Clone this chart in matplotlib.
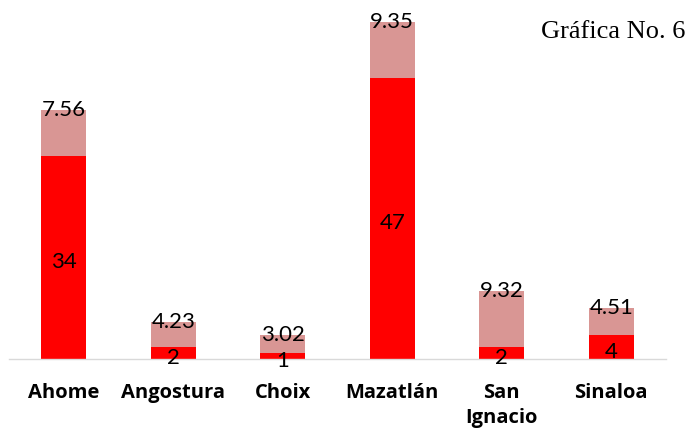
import matplotlib
matplotlib.use("Agg")
import matplotlib.pyplot as plt

categories = ["Ahome", "Angostura", "Choix", "Mazatlán", "San\nIgnacio", "Sinaloa"]
serie_inferior = [34, 2, 1, 47, 2, 4]
serie_superior = [7.56, 4.23, 3.02, 9.35, 9.32, 4.51]
etiquetas_inferior = ["34", "2", "1", "47", "2", "4"]
etiquetas_superior = ["7.56", "4.23", "3.02", "9.35", "9.32", "4.51"]

fig = plt.figure(figsize=(6.89, 4.32), dpi=100)
ax = fig.add_axes([9/689, 73/432, 657/689, 359/432])
x = list(range(len(categories)))
w = 0.41
ax.bar(x, serie_inferior, width=w, color="#FF0000", zorder=2)
ax.bar(x, serie_superior, width=w, bottom=serie_inferior, color="#D99694", zorder=2)

for xi, v, t in zip(x, serie_inferior, etiquetas_inferior):
    ax.text(xi, v / 2 - 0.8, t, ha="center", va="center", fontsize=16, family="Lato", color="black", zorder=3)
for xi, v0, v, t in zip(x, serie_inferior, serie_superior, etiquetas_superior):
    ax.text(xi, v0 + v, t, ha="center", va="center", fontsize=16, family="Lato", color="black", zorder=3)

ax.set_xlim(-0.5, len(categories) - 0.5)
ax.set_ylim(0, 60)
ax.set_xticks(x)
ax.set_xticklabels(categories, fontsize=14.5, fontweight="bold", family="Open Sans", linespacing=1.35)
ax.tick_params(axis="x", length=0, pad=17)
ax.set_yticks([])
for s in ["top", "left", "right"]:
    ax.spines[s].set_visible(False)
ax.spines["bottom"].set_color("#D9D9D9")
ax.spines["bottom"].set_linewidth(1)

fig.text(685/689, 1 - 32/432, "Gráfica No. 6", ha="right", va="center", fontsize=19, family="Liberation Serif")

fig.savefig("out.png", dpi=100)
